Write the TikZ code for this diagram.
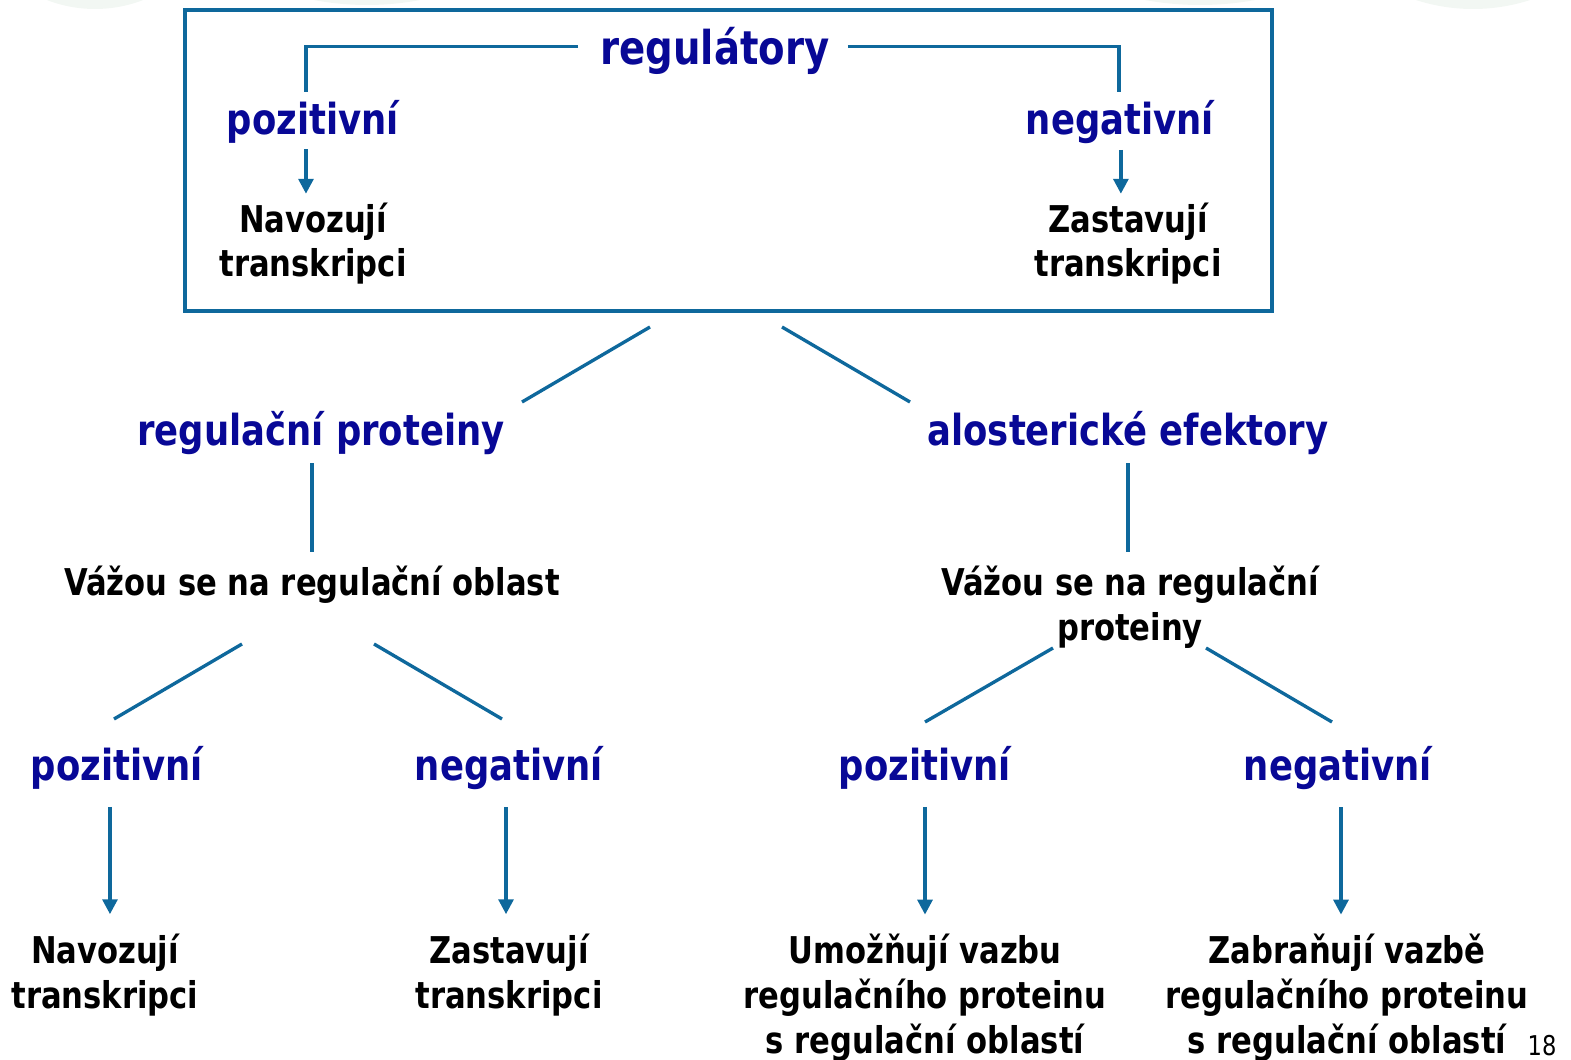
\documentclass[tikz,border=0pt]{standalone}
\usepackage{fontspec}
\newfontfamily\slidefont{DejaVu Sans Bold}[FakeStretch=0.83]
\newfontfamily\pagefont{DejaVu Sans}[FakeStretch=0.83]
\usetikzlibrary{arrows.meta,calc}

\definecolor{linec}{RGB}{14,104,156}
\definecolor{headc}{RGB}{8,8,150}
\definecolor{bgc}{RGB}{242,247,243}

\tikzset{
  head/.style={text=headc, font=\slidefont\fontsize{24.3}{29}\selectfont, anchor=base, inner sep=0pt},
  desc/.style={text=black, font=\slidefont\fontsize{21}{25.4}\selectfont, align=center, anchor=base, inner sep=0pt},
  link/.style={draw=linec, line width=1.9pt},
  push/.style={link, -{Triangle[width=8.5pt,length=8.5pt]}},
}

\begin{document}
\begin{tikzpicture}[x=0.02cm, y=-0.02cm]
\useasboundingbox (0,0) rectangle (1571,1060);

% faint slide background
\begin{scope}
\clip (0,0) rectangle (1571,1060);
\fill[bgc] (95,-124) circle (133);
\fill[bgc] (367,-278) circle (283);
\fill[bgc] (1200,-300) circle (305);
\fill[bgc] (1473,-176) circle (185);
\end{scope}

% top box
\node (frame) [draw=linec, line width=1.9pt, minimum width=21.74cm, minimum height=6.02cm, inner sep=0pt] at (728.5,160.5) {};
\node (reg) [head, font=\slidefont\fontsize{26.5}{32}\selectfont] at (715,65) {regulátory};
\node (tpos) [head] at (313,135) {pozitivní};
\node (tneg) [head] at (1120,135) {negativní};
\node (tnav) [desc] at (313,277) {Navozují\\transkripci};
\node (tzas) [desc] at (1128,277) {Zastavují\\transkripci};

\draw[link] ($(reg.west)+(-22,-5)$) -| (306,92);
\draw[link] ($(reg.east)+(18,-5)$) -| (1119,92);
\draw[push, shorten <=3pt, shorten >=5pt] ([xshift=-4pt]tpos.south) -- ([xshift=-4pt]tpos.south |- tnav.north);
\draw[push, shorten <=3pt, shorten >=5pt] ([xshift=0.5pt]tneg.south) -- ([xshift=0.5pt]tneg.south |- tzas.north);

% two branches
\node (rprot) [head] at (321,445) {regulační proteiny};
\node (aleff) [head] at (1128,445) {alosterické efektory};
\coordinate (f1) at (650,327);
\coordinate (f2) at (782,327);
\coordinate (r1) at (522,402);
\coordinate (a1) at (910,402);
\draw[link] (f1) -- (r1);
\draw[link] (f2) -- (a1);

\node (rbind) [desc] at (312,595) {Vážou se na regulační oblast};
\node (abind) [desc] at (1130,640) {Vážou se na regulační\\proteiny};
\draw[link] (312,463) -- (312,552);
\draw[link] (1128,463) -- (1128,552);

% lower level
\node (lpos) [head] at (117,780) {pozitivní};
\node (lneg) [head] at (509,780) {negativní};
\node (rpos) [head] at (925,780) {pozitivní};
\node (rneg) [head] at (1338,780) {negativní};

\coordinate (b1) at (242,644);
\coordinate (b2) at (374,644);
\coordinate (b3) at (1053,648);
\coordinate (b4) at (1206,648);
\draw[link] (b1) -- (114,719);
\draw[link] (b2) -- (502,719);
\draw[link] (b3) -- (925,722);
\draw[link] (b4) -- (1332,722);

\node (lnav) [desc] at (105,1008) {Navozují\\transkripci};
\node (lzas) [desc] at (509,1008) {Zastavují\\transkripci};
\node (rumo) [desc] at (925,1053) {Umožňují vazbu\\regulačního proteinu\\s regulační oblastí};
\node (rzab) [desc] at (1347,1053) {Zabraňují vazbě\\regulačního proteinu\\s regulační oblastí};

\draw[push, shorten <=10pt, shorten >=11pt] ([xshift=-4pt]lpos.south) -- ([xshift=-4pt]lpos.south |- lnav.north);
\draw[push, shorten <=10pt, shorten >=11pt] ([xshift=-1.7pt]lneg.south) -- ([xshift=-1.7pt]lneg.south |- lzas.north);
\draw[push, shorten <=10pt, shorten >=11pt] (rpos.south) -- (rpos.south |- rumo.north);
\draw[push, shorten <=10pt, shorten >=11pt] ([xshift=1.7pt]rneg.south) -- ([xshift=1.7pt]rneg.south |- rzab.north);

\node (pg) [anchor=base, inner sep=0pt, font=\pagefont\fontsize{15.5}{18}\selectfont] at (1542,1055) {18};
\end{tikzpicture}
\end{document}
